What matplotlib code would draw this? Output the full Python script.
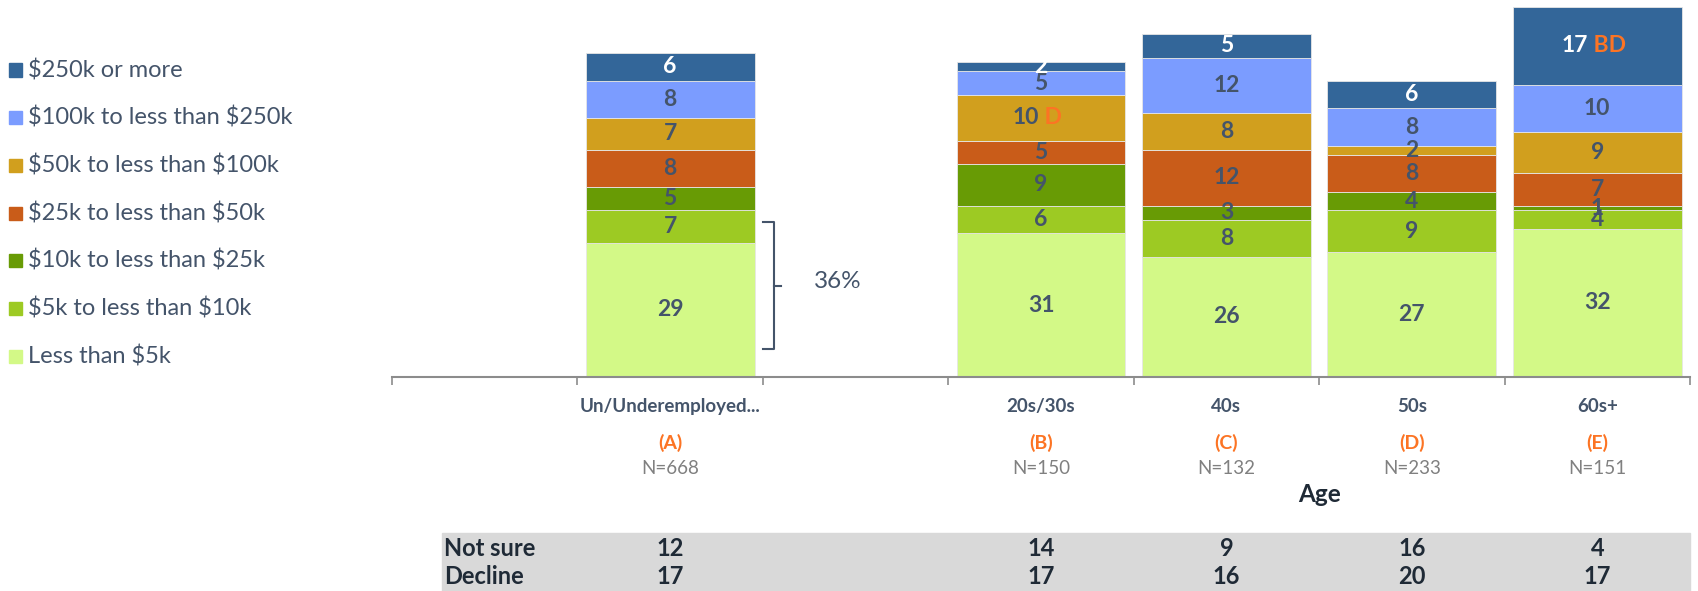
import matplotlib
matplotlib.use("Agg")
import matplotlib.pyplot as plt
from matplotlib import font_manager
from matplotlib.patches import Rectangle
from matplotlib.transforms import blended_transform_factory

plt.rcParams["font.family"] = ["Lato", "DejaVu Sans"]

# categories (slot positions leave gaps like the original layout)
groups = ["Un/Underemployed...", "20s/30s", "40s", "50s", "60s+"]
group_letters = ["(A)", "(B)", "(C)", "(D)", "(E)"]
group_n = ["N=668", "N=150", "N=132", "N=233", "N=151"]
slots = [1, 3, 4, 5, 6]

# stacked series, bottom to top
series_names = [
    "Less than $5k",
    "$5k to less than $10k",
    "$10k to less than $25k",
    "$25k to less than $50k",
    "$50k to less than $100k",
    "$100k to less than $250k",
    "$250k or more",
]
less_5k = [29, 31, 26, 27, 32]
k5_10 = [7, 6, 8, 9, 4]
k10_25 = [5, 9, 3, 4, 1]
k25_50 = [8, 5, 12, 8, 7]
k50_100 = [7, 10, 8, 2, 9]
k100_250 = [8, 5, 12, 8, 10]
k250_plus = [6, 2, 5, 6, 17]
series_values = [less_5k, k5_10, k10_25, k25_50, k50_100, k100_250, k250_plus]
series_colors = ["#d3f987", "#9dca23", "#689b05", "#c95c19", "#d19f1e", "#7b9cff", "#336699"]

# significance letters: (series index, group index) -> letters
sig_letters = {(4, 1): "D", (6, 4): "BD"}

not_sure = [12, 14, 9, 16, 4]
decline = [17, 17, 16, 20, 17]

TEXT = "#44546a"
DARK = "#1f2a36"
ORANGE = "#fc7424"

installed = {f.name for f in font_manager.fontManager.ttflist}
narrow = ["Liberation Sans Narrow", "Lato"] if "Liberation Sans Narrow" in installed else ["Lato"]

fig = plt.figure(figsize=(16.98, 5.91), dpi=100)
ax = fig.add_axes([392 / 1698, 214 / 591, 1298 / 1698, 375 / 591])
ax.set_xlim(-0.5, 6.5)
ax.set_ylim(0, 81)

bottoms = [0] * len(slots)
for si, (vals, col) in enumerate(zip(series_values, series_colors)):
    ax.bar(slots, vals, bottom=bottoms, width=0.91, color=col,
           edgecolor="#e6e6e6", linewidth=0.6)
    for gi, (x, v, b) in enumerate(zip(slots, vals, bottoms)):
        lc = "white" if si == len(series_values) - 1 else TEXT
        yc = b + v / 2
        letters = sig_letters.get((si, gi))
        if letters:
            shift = -(len(letters) + 1) * 5.5
            t = ax.annotate(str(v), (x, yc), xytext=(shift, 0), textcoords="offset points",
                            ha="center", va="center", fontsize=16.5, fontweight="bold", color=lc)
            ax.annotate(" " + letters, xy=(1, 0.5), xycoords=t, ha="left", va="center",
                        fontsize=16.5, fontweight="bold", color=ORANGE)
        else:
            ax.text(x, yc, str(v), ha="center", va="center", fontsize=16.5,
                    fontweight="bold", color=lc)
    bottoms = [b + v for b, v in zip(bottoms, vals)]

# axis styling
for side in ("top", "right", "left"):
    ax.spines[side].set_visible(False)
ax.spines["bottom"].set_color("#8c8c8c")
ax.spines["bottom"].set_linewidth(1.5)
ax.set_yticks([])
ax.set_xticks([s - 0.5 for s in range(8)], minor=True)
ax.tick_params(axis="x", which="minor", length=6, width=1.2, color="#8c8c8c")
ax.set_xticks(slots, groups)
ax.tick_params(axis="x", which="major", length=0, pad=15, labelsize=13.5, labelcolor=TEXT)
for lab in ax.get_xticklabels():
    lab.set_fontweight("bold")

tr = blended_transform_factory(ax.transData, ax.transAxes)
for x, letter, n in zip(slots, group_letters, group_n):
    ax.text(x, -0.175, letter, transform=tr, ha="center", va="center",
            fontsize=14, fontweight="bold", color=ORANGE)
    ax.text(x, -0.245, n, transform=tr, ha="center", va="center",
            fontsize=13.5, color="#808080")
ax.text((slots[1] + slots[-1]) / 2, -0.312, "Age", transform=tr, ha="center", va="center",
        fontsize=17.5, fontweight="bold", color=DARK)

# bracket for the two lowest bands of the first bar
low_total = less_5k[0] + k5_10[0]
y_top, y_bot = low_total - 2.5, 6.0
y_mid = (y_top + y_bot) / 2
bx0, bx1, bx2 = 1.5, 1.56, 1.60
ax.plot([bx0, bx1, bx1, bx0], [y_top, y_top, y_bot, y_bot], color=TEXT, lw=1.5, clip_on=False)
ax.plot([bx1, bx2], [y_mid, y_mid], color=TEXT, lw=1.5, clip_on=False)
ax.text(1.775, y_mid + 0.8, f"{low_total}%", ha="left", va="center", fontsize=17.5, color=TEXT)

# legend, drawn top to bottom
for i, (name, col) in enumerate(zip(series_names[::-1], series_colors[::-1])):
    yy = 1 - (70 + i * 47.7) / 591
    fig.patches.append(Rectangle((9 / 1698, yy - 6.5 / 591), 13 / 1698, 13 / 591,
                                 transform=fig.transFigure, color=col))
    fig.text(28 / 1698, yy, name.replace("$", r"\$"), ha="left", va="center",
             fontsize=17, color=TEXT)

# bottom table
fig.patches.append(Rectangle((442 / 1698, 0), 1248 / 1698, 58 / 591,
                             transform=fig.transFigure, color="#d9d9d9", zorder=0))
trf = blended_transform_factory(ax.transData, fig.transFigure)
for label, vals, yy in (("Not sure", not_sure, 1 - 548 / 591), ("Decline", decline, 1 - 577 / 591)):
    fig.text(444 / 1698, yy, label, ha="left", va="center", fontsize=17,
             fontweight="bold", color=DARK, family=narrow)
    for x, v in zip(slots, vals):
        fig.text(x, yy, str(v), transform=trf, ha="center", va="center", fontsize=17,
                 fontweight="bold", color=DARK, family=narrow)

fig.savefig("out.png", dpi=100)
